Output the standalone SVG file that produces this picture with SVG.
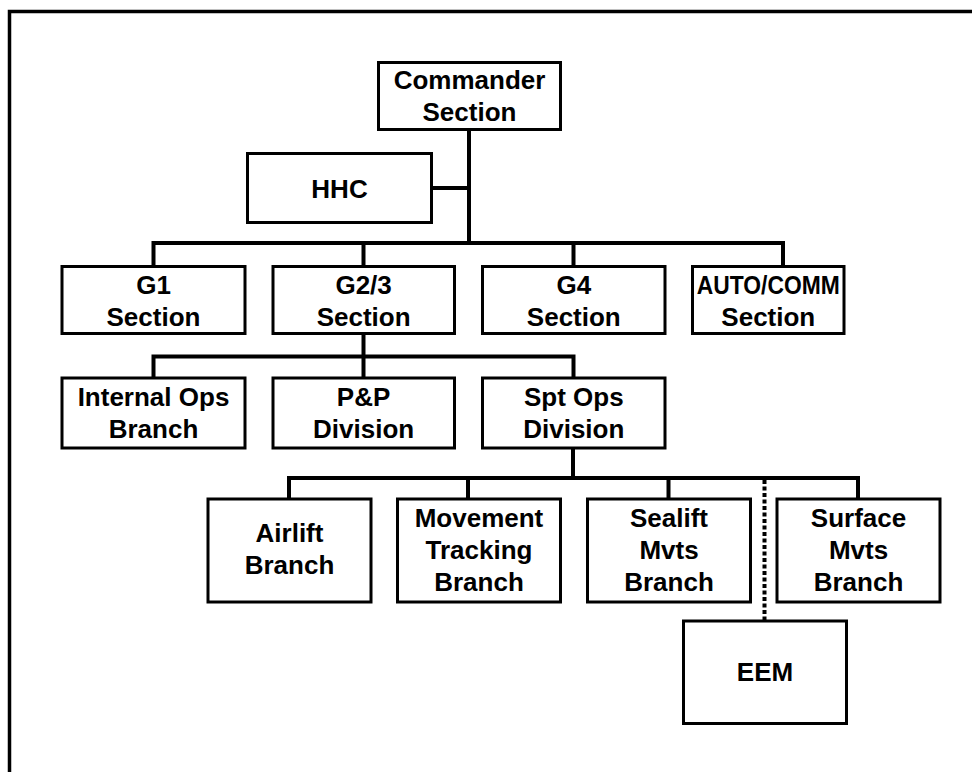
<svg xmlns="http://www.w3.org/2000/svg" width="972" height="772" viewBox="0 0 972 772">
  <style>
    .box { fill: #ffffff; stroke: #000000; stroke-width: 3; }
    .conn { fill: none; stroke: #000000; stroke-width: 4; }
    .dot { fill: none; stroke: #000000; stroke-width: 4; stroke-dasharray: 4 2.5; }
    .frame { fill: none; stroke: #000000; stroke-width: 3.5; }
    text { font-family: "Liberation Sans", Arial, Helvetica, sans-serif; font-weight: bold; font-size: 26px; fill: #000000; text-anchor: middle; }
  </style>
  <rect x="0" y="0" width="972" height="772" fill="#ffffff"/>
  <!-- outer frame: open on the right and bottom -->
  <path class="frame" d="M9.5 772 V11.5 H972"/>

  <!-- connectors -->
  <g id="connectors">
    <path class="conn" d="M469 130 V243"/>
    <path class="conn" d="M432 188 H469"/>
    <path class="conn" d="M153.5 267 V243 H783 V267 M363.5 243 V267 M573.5 243 V267"/>
    <path class="conn" d="M363.5 333 V356.5"/>
    <path class="conn" d="M153.5 378 V356.5 H573.5 V378 M363.5 356.5 V378"/>
    <path class="conn" d="M573 448 V478"/>
    <path class="conn" d="M289 499 V478 H858 V499 M468 478 V499 M668.5 478 V499"/>
    <path class="dot" d="M764.5 480 V620.5"/>
  </g>

  <g id="commander">
    <rect class="box" x="378.5" y="62.5" width="182" height="67"/>
    <text x="469.5" y="88.5">Commander</text>
    <text x="469.5" y="121">Section</text>
  </g>
  <g id="hhc">
    <rect class="box" x="247.5" y="153.5" width="184" height="69"/>
    <text x="339.5" y="197.5">HHC</text>
  </g>

  <g id="g1">
    <rect class="box" x="62" y="266.5" width="183" height="67"/>
    <text x="153.5" y="293.5">G1</text>
    <text x="153.5" y="325.5">Section</text>
  </g>
  <g id="g23">
    <rect class="box" x="273" y="266.5" width="181.5" height="67"/>
    <text x="363.6" y="293.5">G2/3</text>
    <text x="363.6" y="325.5">Section</text>
  </g>
  <g id="g4">
    <rect class="box" x="482.5" y="266.5" width="182.5" height="67"/>
    <text x="573.8" y="293.5">G4</text>
    <text x="573.8" y="325.5">Section</text>
  </g>
  <g id="autocomm">
    <rect class="box" x="692.5" y="266.5" width="151.5" height="67"/>
    <text x="768.3" y="293.5" textLength="143" lengthAdjust="spacingAndGlyphs">AUTO/COMM</text>
    <text x="768.3" y="325.5">Section</text>
  </g>

  <g id="internal-ops">
    <rect class="box" x="62" y="378" width="183" height="70"/>
    <text x="153.5" y="406">Internal Ops</text>
    <text x="153.5" y="438">Branch</text>
  </g>
  <g id="pp">
    <rect class="box" x="273" y="378" width="181.5" height="70"/>
    <text x="363.6" y="406">P&amp;P</text>
    <text x="363.6" y="438">Division</text>
  </g>
  <g id="spt-ops">
    <rect class="box" x="482.5" y="378" width="182.5" height="70"/>
    <text x="573.8" y="406">Spt Ops</text>
    <text x="573.8" y="438">Division</text>
  </g>

  <g id="airlift">
    <rect class="box" x="208" y="499" width="163" height="103"/>
    <text x="289.5" y="542">Airlift</text>
    <text x="289.5" y="574">Branch</text>
  </g>
  <g id="movement">
    <rect class="box" x="397.5" y="499" width="163" height="103"/>
    <text x="479" y="527">Movement</text>
    <text x="479" y="559">Tracking</text>
    <text x="479" y="591">Branch</text>
  </g>
  <g id="sealift">
    <rect class="box" x="587.5" y="499" width="163" height="103"/>
    <text x="669" y="527">Sealift</text>
    <text x="669" y="559">Mvts</text>
    <text x="669" y="591">Branch</text>
  </g>
  <g id="surface">
    <rect class="box" x="777" y="499" width="163" height="103"/>
    <text x="858.5" y="527">Surface</text>
    <text x="858.5" y="559">Mvts</text>
    <text x="858.5" y="591">Branch</text>
  </g>
  <g id="eem">
    <rect class="box" x="683.5" y="621" width="163" height="102.5"/>
    <text x="765" y="681">EEM</text>
  </g>
</svg>
